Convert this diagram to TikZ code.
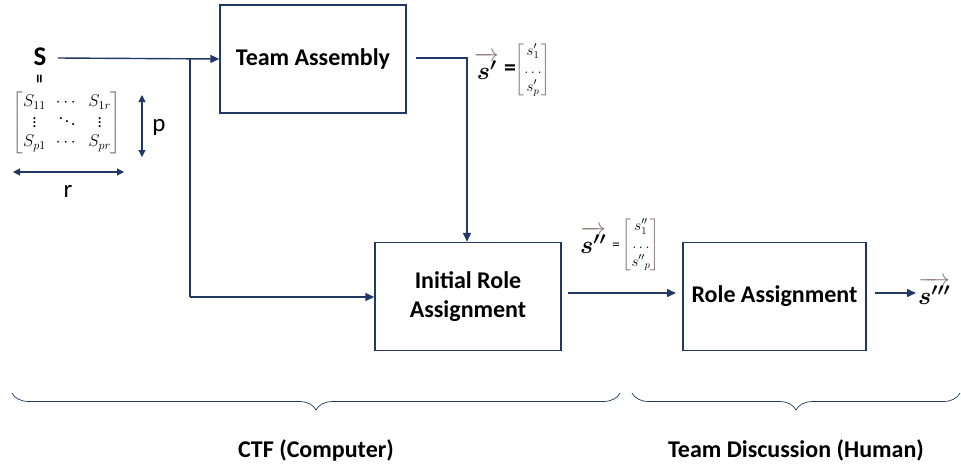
\documentclass[tikz,border=0pt]{standalone}
\usepackage{fix-cm}
\usepackage{amsmath}
\usepackage{fontspec}
\setmainfont{Carlito}
\usetikzlibrary{arrows.meta,decorations.pathreplacing}
\definecolor{navy}{HTML}{1F3864}
\definecolor{brk}{HTML}{8C7B78}
\newcommand{\bmx}[1]{\color{brk}\left[\color{black}\begin{matrix}#1\end{matrix}\color{brk}\right]}
\newcommand{\vecs}[1]{{\color{brk}\overrightarrow{\color{black}\boldsymbol{#1}}}}
\newcommand{\vd}{\smash{\raisebox{-1pt}{$\vdots$}}}
\begin{document}
\begin{tikzpicture}[x=1pt,y=-1pt,
  box/.style={draw=navy,line width=1.4pt,minimum width=186pt,minimum height=108pt,align=center,font=\fontsize{24}{29}\selectfont\bfseries,inner sep=0pt},
  conn/.style={draw=navy,line width=1.4pt},
  arr/.style={conn,-{Triangle[length=9pt,width=8pt]}},
  darr/.style={draw=navy,line width=1.1pt,{Triangle[length=7pt,width=7pt]}-{Triangle[length=7pt,width=7pt]}},
  lbl/.style={font=\fontsize{25}{28}\selectfont,inner sep=0pt},
  brc/.style={draw=navy,line width=0.7pt,decorate,decoration={brace,mirror,amplitude=17pt,aspect=0.5}},
  captext/.style={font=\fontsize{24}{28}\selectfont\bfseries,inner sep=0pt}]
\useasboundingbox (0,0) rectangle (961,467);
\node[box] (ta) at (313,59) {Team Assembly};
\node[box] (ira) at (468,296.5) {Initial Role\\Assignment};
\node[box,minimum width=183pt] (ra) at (774.5,296.5) {Role Assignment};
% S
\node[font=\fontsize{27}{30}\selectfont\bfseries,inner sep=0pt] (S) at (40,57) {S};
\node[inner sep=0pt,rotate=90,font=\fontsize{18}{18}\selectfont\bfseries] (eq) at (41,79) {=};
\node[inner sep=0pt,font=\fontsize{17}{19}\selectfont] (SM) at (67,123) {$\bmx{S_{11} & \cdots & S_{1r}\\[1pt] \vd & \smash{\ddots} & \vd\\[1pt] S_{p1} & \cdots & S_{pr}}$};
\coordinate (pt) at (142,95);
\coordinate (pb) at (142,157);
\draw[darr] (pt) -- (pb);
\node[lbl] (p) at (159,127) {p};
\coordinate (rl) at (13,172);
\coordinate (rr) at (124,172);
\draw[darr] (rl) -- (rr);
\node[lbl] (r) at (68,191) {r};
% connectors
\coordinate (s0) at (58,58);
\coordinate (j1) at (190,58);
\coordinate (j2) at (190,297);
\draw[arr] (s0) -- (ta.west);
\draw[conn] (j1) -- (j2);
\draw[arr] (j2) -- (ira.west |- j2);
\coordinate (t0) at (416,58);
\coordinate (t1) at (467,58);
\draw[arr] (t0) -- (t1) -- (t1 |- ira.north);
\coordinate (a0) at (568,293);
\coordinate (a1) at (676,293);
\draw[arr] (a0) -- (a1);
\coordinate (b0) at (875,293);
\coordinate (b1) at (916,293);
\draw[arr] (b0) -- (b1);
% vectors
\node[inner sep=0pt,font=\fontsize{25}{28}\selectfont,anchor=west] (s1) at (474,66) {$\vecs{s'}$};
\node[inner sep=0pt,font=\fontsize{24}{26}\selectfont\bfseries] (eq1) at (510,70) {=};
\node[inner sep=0pt,font=\fontsize{15}{17}\selectfont] (m1) at (533,70) {$\bmx{s_1'\\[1pt] \dots\\[1pt] s_p'}$};
\node[inner sep=0pt,font=\fontsize{25}{28}\selectfont,anchor=west] (s2) at (580,240) {$\vecs{s''}$};
\node[inner sep=0pt,font=\fontsize{15}{16}\selectfont] (eq2) at (616,246) {=};
\node[inner sep=0pt,font=\fontsize{15}{17}\selectfont] (m2) at (641,245) {$\bmx{s_1''\\[1pt] \dots\\[1pt] {s''}_p}$};
\node[inner sep=0pt,font=\fontsize{25}{28}\selectfont,anchor=west] (s3) at (918,291) {$\vecs{s'''}$};
% braces
\coordinate (bl0) at (12,393);
\coordinate (bl1) at (620,393);
\coordinate (br0) at (632,393);
\coordinate (br1) at (960,393);
\draw[brc] (bl0) -- (bl1);
\draw[brc] (br0) -- (br1);
\node[captext] (c1) at (316,450) {CTF (Computer)};
\node[captext] (c2) at (796,450) {Team Discussion (Human)};
\end{tikzpicture}
\end{document}
